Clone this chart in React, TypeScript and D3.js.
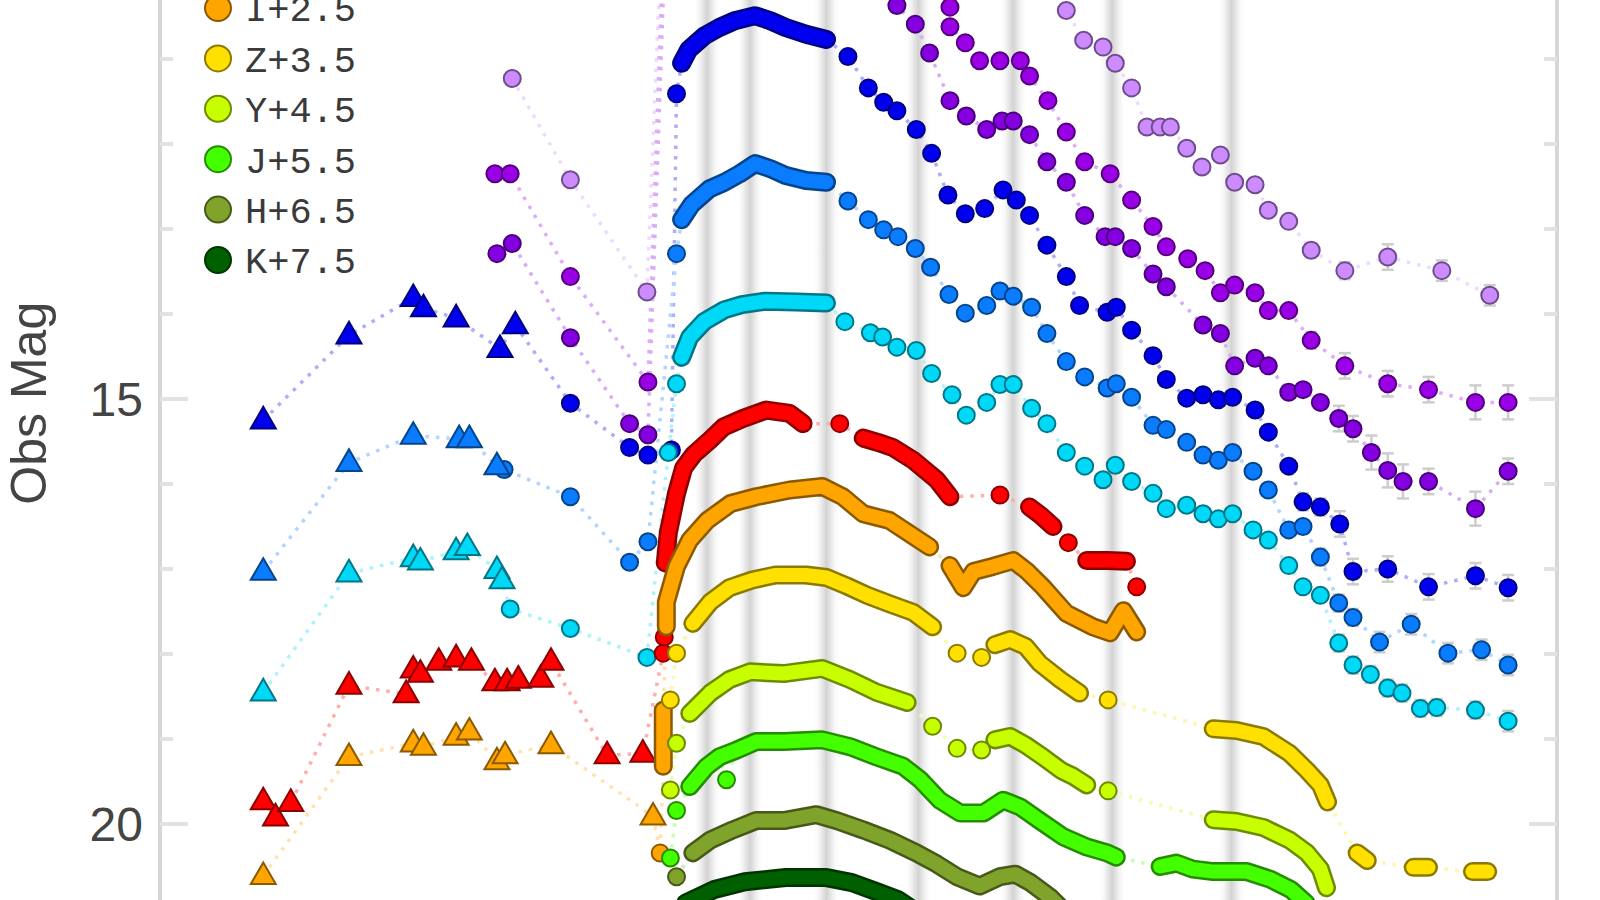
import React, { useEffect, useRef } from 'react'
import * as d3 from 'd3'

// [phase (days), observed mag incl. offset, error?]
type Pt = number[]

const W = 1600
const H = 900

// epochs of the spectra (grey bands)
const spectraDays = [5.6, 9.8, 17.3, 26.3, 35.6, 45.3, 57.0]

const magTicks = [11, 12, 13, 14, 15, 16, 17, 18, 19, 20]
const magLabels = [15, 20]

const legendLabels = ['I+2.5', 'Z+3.5', 'Y+4.5', 'J+5.5', 'H+6.5', 'K+7.5']
const legendColors = ['#ffa500', '#ffe000', '#c8ff00', '#44ff00', '#80a32c', '#006000']

// ---- UV bands (peak is above the frame)
const uvw2Pts: Pt[] = [
    [-13.5, 11.23], [-7.8, 12.42], [-0.3, 13.74], [1.1, 9.6], [38, 9.9],
    [40.8, 10.43], [42.5, 10.78], [44.4, 10.86], [45.6, 11.05], [47.2, 11.34],
    [48.7, 11.8], [50.0, 11.8], [51.0, 11.8], [52.6, 12.05], [54.1, 12.27],
    [55.9, 12.13], [57.3, 12.45], [59.3, 12.48], [60.6, 12.78], [62.6, 12.91],
    [64.8, 13.25, 0.08], [68.1, 13.49, 0.1], [72.3, 13.33, 0.15], [77.6, 13.49, 0.12], [82.3, 13.78, 0.12]
]

const uvm2Pts: Pt[] = [
    [-15.2, 12.35], [-13.7, 12.35], [-7.8, 13.56], [-0.2, 14.8], [1.3, 9.6], [27, 10.0],
    [29.4, 10.39], [29.4, 10.62], [30.9, 10.81], [32.3, 11.02], [34.3, 11.02], [36.3, 11.02],
    [37.2, 11.2], [39.0, 11.49], [40.8, 11.86], [42.6, 12.21], [45.1, 12.35], [47.2, 12.66],
    [49.3, 12.97], [50.6, 13.21], [52.7, 13.35], [54.4, 13.49], [55.9, 13.75], [57.3, 13.66],
    [59.3, 13.75], [60.6, 13.96], [62.6, 13.96], [64.8, 14.31, 0.1], [68.1, 14.61, 0.15],
    [72.3, 14.82, 0.15], [76.3, 14.89, 0.15], [80.9, 15.04, 0.2], [84.1, 15.04, 0.2]
]

const uvw1Pts: Pt[] = [
    [-15.0, 13.29], [-13.5, 13.17], [-7.8, 14.28], [-2.0, 15.29], [-0.2, 15.42], [1.5, 9.6], [22, 10.0],
    [24.2, 10.37], [26.0, 10.59], [27.4, 10.93], [29.4, 11.49], [31.0, 11.67], [33.0, 11.83],
    [34.5, 11.73], [35.6, 11.73], [37.2, 11.89], [38.9, 12.21], [40.8, 12.45], [42.6, 12.84],
    [44.6, 13.09], [45.6, 13.09], [47.2, 13.23], [49.3, 13.53], [50.6, 13.68], [54.2, 14.13],
    [55.9, 14.23], [57.3, 14.61], [59.3, 14.52], [60.6, 14.61], [62.6, 14.92], [64.0, 14.89],
    [65.7, 15.04], [67.5, 15.23, 0.15], [68.9, 15.35, 0.15], [70.7, 15.63, 0.2], [72.3, 15.84, 0.2],
    [73.8, 15.97, 0.2], [76.3, 15.97, 0.15], [80.9, 16.29, 0.2], [84.1, 15.85, 0.15]
]

// ---- U
const uTri: Pt[] = [
    [-37.9, 15.25], [-29.5, 14.25], [-23.2, 13.81], [-22.2, 13.93], [-19.0, 14.05], [-14.7, 14.41], [-13.2, 14.13]
]
const uPts: Pt[] = [
    [-7.8, 15.05], [-2.0, 15.57], [-0.2, 15.66], [2.1, 15.6], [2.6, 11.41],
    [19.4, 10.97], [21.4, 11.34], [22.9, 11.51], [24.2, 11.61], [26.1, 11.83], [27.6, 12.11],
    [29.2, 12.6], [30.9, 12.82], [32.8, 12.76], [34.6, 12.54], [35.9, 12.66], [37.2, 12.84],
    [38.9, 13.19], [40.8, 13.56], [42.1, 13.9], [44.8, 13.98], [45.7, 13.92], [47.2, 14.19],
    [49.3, 14.49], [50.6, 14.77], [52.6, 14.99], [54.2, 14.95], [55.7, 15.01], [57.1, 14.98],
    [59.3, 15.13], [60.6, 15.39], [62.6, 15.79], [64.0, 16.21, 0.1], [65.7, 16.27, 0.1],
    [67.6, 16.47, 0.15], [68.9, 17.03, 0.15], [72.3, 17.0, 0.15], [76.3, 17.21, 0.15],
    [80.9, 17.08, 0.15], [84.1, 17.22, 0.15]
]
const uRuns: Pt[][] = [
    [[3.1, 11.05], [3.8, 10.89], [5.3, 10.73], [6.8, 10.63], [8.3, 10.55], [10.3, 10.49],
     [11.8, 10.55], [13.3, 10.63], [15.3, 10.71], [17.3, 10.77]]
]

// ---- B
const bTri: Pt[] = [
    [-37.9, 17.03], [-29.5, 15.75], [-23.2, 15.43], [-18.7, 15.47], [-17.7, 15.47], [-15.0, 15.79]
]
const bPts: Pt[] = [
    [-14.3, 15.83], [-7.8, 16.15], [-2.0, 16.92], [-0.2, 16.68], [2.6, 13.29],
    [19.4, 12.67], [21.4, 12.89], [22.9, 13.01], [24.3, 13.09], [26.0, 13.23], [27.5, 13.45],
    [29.3, 13.77], [30.9, 13.99], [33.0, 13.9], [34.3, 13.73], [35.6, 13.79], [37.4, 13.92],
    [38.9, 14.23], [40.8, 14.56], [42.6, 14.74], [44.8, 14.87], [45.7, 14.82], [47.2, 14.98],
    [49.3, 15.31], [50.6, 15.36], [52.6, 15.51], [54.2, 15.66], [55.7, 15.72], [57.1, 15.63],
    [59.1, 15.85], [60.6, 16.07], [62.6, 16.54], [64.0, 16.5], [65.7, 16.86, 0.1],
    [67.5, 17.4, 0.1], [68.9, 17.57, 0.1], [71.5, 17.86, 0.12], [74.6, 17.65, 0.12],
    [78.2, 17.99, 0.12], [81.5, 17.95, 0.12], [84.1, 18.13, 0.12]
]
const bRuns: Pt[][] = [
    [[3.1, 12.89], [4.1, 12.71], [5.8, 12.53], [7.3, 12.45], [8.8, 12.35], [10.3, 12.23],
     [11.8, 12.29], [13.3, 12.37], [15.3, 12.43], [17.3, 12.45]]
]

// ---- V
const vTri: Pt[] = [
    [-37.9, 18.45], [-29.5, 17.05], [-23.2, 16.87], [-22.5, 16.91], [-19.0, 16.79],
    [-17.9, 16.74], [-15.0, 17.01], [-14.5, 17.13]
]
const vPts: Pt[] = [
    [-13.7, 17.47], [-7.8, 17.7], [-0.3, 18.04], [1.8, 15.63], [2.6, 14.82],
    [19.1, 14.09], [21.6, 14.22], [22.8, 14.27], [24.2, 14.39], [26.1, 14.43], [27.6, 14.7],
    [29.6, 14.95], [31.0, 15.19], [33.0, 15.04], [34.3, 14.83], [35.6, 14.83], [37.4, 15.11],
    [38.9, 15.29], [40.8, 15.63], [42.6, 15.79], [44.4, 15.95], [45.6, 15.78], [47.2, 15.97],
    [49.3, 16.11], [50.6, 16.29], [52.6, 16.25], [54.2, 16.35], [55.7, 16.41], [57.1, 16.35],
    [59.1, 16.54], [60.6, 16.66], [62.6, 16.96], [64.0, 17.21], [65.7, 17.31],
    [67.5, 17.87, 0.1], [68.9, 18.13, 0.1], [70.6, 18.24, 0.1], [72.3, 18.4, 0.1],
    [73.7, 18.46, 0.1], [75.5, 18.64, 0.1], [77.1, 18.63, 0.1], [80.9, 18.66, 0.1], [84.1, 18.79, 0.12]
]
const vRuns: Pt[][] = [
    [[3.1, 14.51], [3.9, 14.27], [5.3, 14.09], [7.3, 13.95], [9.0, 13.89], [11.3, 13.85],
     [14.3, 13.86], [17.3, 13.87]]
]

// ---- R
const rTri: Pt[] = [
    [-37.9, 19.73], [-36.7, 19.92], [-35.2, 19.75], [-29.5, 18.37], [-23.9, 18.47], [-23.2, 18.18],
    [-22.5, 18.23], [-20.7, 18.09], [-19.0, 18.05], [-17.5, 18.09], [-15.2, 18.33], [-14.0, 18.33],
    [-12.9, 18.3], [-10.7, 18.29], [-9.7, 18.09], [-4.2, 19.19], [-0.7, 19.17]
]
const rPts: Pt[] = [
    [1.3, 17.99], [1.4, 17.8], [18.6, 15.29], [34.3, 16.13], [41.0, 16.69], [47.7, 17.21]
]
const rRuns: Pt[][] = [
    [[1.5, 16.93], [1.8, 16.57], [2.6, 16.11], [3.3, 15.81], [4.3, 15.65], [5.9, 15.48], [7.2, 15.33],
     [9.1, 15.23], [11.4, 15.13], [13.7, 15.17], [15.0, 15.29]],
    [[20.9, 15.46], [22.3, 15.51], [23.8, 15.57], [25.8, 15.72], [28.1, 15.95], [29.4, 16.15]],
    [[37.2, 16.27], [38.3, 16.37], [39.5, 16.5]],
    [[42.8, 16.9], [44.8, 16.9], [46.7, 16.91]]
]

// ---- I
const iTri: Pt[] = [
    [-37.9, 20.61], [-29.5, 19.21], [-23.2, 19.05], [-22.2, 19.09], [-19.0, 18.97], [-17.7, 18.91],
    [-15.0, 19.26], [-14.2, 19.19], [-9.7, 19.07], [0.3, 19.91]
]
const iPts: Pt[] = [[1.0, 20.34]]
const iRuns: Pt[][] = [
    [[1.3, 19.32], [1.3, 18.95], [1.3, 18.66]],
    [[1.6, 17.68], [1.6, 17.39], [2.6, 16.97], [3.9, 16.66], [5.6, 16.43], [7.9, 16.23], [10.4, 16.15],
     [13.7, 16.07], [16.9, 16.03], [18.9, 16.15], [20.9, 16.35], [23.5, 16.43], [25.5, 16.59], [27.4, 16.74]],
    [[29.4, 16.96], [30.7, 17.22], [31.7, 17.03], [33.6, 16.97], [35.6, 16.9], [36.9, 17.02],
     [38.5, 17.21], [40.8, 17.52], [43.4, 17.68], [45.1, 17.75], [46.4, 17.49], [47.7, 17.74]]
]

// ---- Z
const zPts: Pt[] = [[2.0, 18.54], [2.6, 17.99], [30.1, 17.99], [32.5, 18.04], [44.9, 18.54]]
const zRuns: Pt[][] = [
    [[4.2, 17.64], [5.9, 17.39], [7.8, 17.22], [10.0, 17.13], [12.3, 17.07], [15.3, 17.07],
     [17.3, 17.1], [19.3, 17.2], [21.3, 17.31], [23.5, 17.41], [25.8, 17.51], [27.7, 17.68]],
    [[33.8, 17.89], [35.3, 17.83], [36.8, 17.91], [38.2, 18.11], [40.2, 18.3], [42.1, 18.46]],
    [[55.2, 18.88], [57.5, 18.9], [60.1, 18.97], [62.7, 19.17], [64.4, 19.37], [65.7, 19.54], [66.4, 19.74]],
    [[69.3, 20.34], [70.3, 20.43]],
    [[74.8, 20.51], [76.3, 20.51]],
    [[80.6, 20.56], [82.1, 20.56]]
]

// ---- Y
const yPts: Pt[] = [[2.0, 19.6], [2.6, 19.05], [27.7, 18.85], [30.1, 19.11], [32.5, 19.13], [44.9, 19.61]]
const yRuns: Pt[][] = [
    [[3.9, 18.7], [5.9, 18.46], [7.8, 18.3], [9.8, 18.21], [13.1, 18.23], [16.9, 18.17],
     [19.6, 18.3], [22.2, 18.45], [25.2, 18.57]],
    [[33.8, 19.01], [35.3, 18.97], [36.8, 19.07], [38.5, 19.21], [40.3, 19.37], [41.5, 19.44], [42.8, 19.54]],
    [[55.2, 19.95], [57.5, 19.97], [60.1, 20.04], [62.7, 20.19], [64.4, 20.34], [65.7, 20.53], [66.3, 20.75]]
]

// ---- J
const jPts: Pt[] = [[2.0, 20.4], [2.6, 19.84], [7.5, 19.48]]
const jRuns: Pt[][] = [
    [[3.9, 19.56], [5.5, 19.33], [6.8, 19.21], [8.5, 19.13], [10.4, 19.03], [13.1, 19.03],
     [16.9, 19.01], [19.6, 19.09], [22.2, 19.21], [24.8, 19.32], [26.5, 19.48], [28.4, 19.72],
     [30.4, 19.87], [32.7, 19.87], [34.6, 19.72], [36.3, 19.8], [38.2, 19.96], [40.5, 20.15],
     [42.8, 20.27], [44.8, 20.34], [45.7, 20.39]],
    [[50.0, 20.5], [51.6, 20.46], [53.2, 20.53], [55.2, 20.56], [57.1, 20.56], [58.5, 20.56],
     [60.8, 20.65], [62.8, 20.77], [64.3, 20.93]]
]

// ---- H
const hPts: Pt[] = [[2.6, 20.62]]
const hRuns: Pt[][] = [
    [[4.2, 20.34], [5.9, 20.19], [8.1, 20.07], [10.4, 19.96], [13.1, 19.96], [16.3, 19.89],
     [18.3, 19.96], [20.9, 20.07], [23.5, 20.19], [26.1, 20.34], [28.1, 20.47], [30.1, 20.62],
     [32.3, 20.73], [34.3, 20.62], [35.8, 20.59], [37.3, 20.69], [39.3, 20.87], [40.8, 21.05]]
]

// ---- K
const kRuns: Pt[][] = [
    [[3.5, 20.93], [6.3, 20.77], [9.3, 20.68], [13.3, 20.63], [17.3, 20.63], [19.8, 20.69],
     [22.3, 20.8], [24.3, 20.89], [26.3, 21.05]]
]

type Series = { color: string, tri: Pt[], pts: Pt[], runs: Pt[][] }

const series: Series[] = [
    { color: '#cc8cff', tri: [], pts: uvw2Pts, runs: [] },
    { color: '#9a00e6', tri: [], pts: uvm2Pts, runs: [] },
    { color: '#8400e0', tri: [], pts: uvw1Pts, runs: [] },
    { color: '#0000ee', tri: uTri, pts: uPts, runs: uRuns },
    { color: '#0a7cff', tri: bTri, pts: bPts, runs: bRuns },
    { color: '#00d8f8', tri: vTri, pts: vPts, runs: vRuns },
    { color: '#ff0000', tri: rTri, pts: rPts, runs: rRuns },
    { color: legendColors[0], tri: iTri, pts: iPts, runs: iRuns },
    { color: legendColors[1], tri: [], pts: zPts, runs: zRuns },
    { color: legendColors[2], tri: [], pts: yPts, runs: yRuns },
    { color: legendColors[3], tri: [], pts: jPts, runs: jRuns },
    { color: legendColors[4], tri: [], pts: hPts, runs: hRuns },
    { color: legendColors[5], tri: [], pts: [], runs: kRuns },
]

const darkOf = (c: string) => d3.color(c)!.darker(1.7).formatHex()

export default function App() {
    const ref = useRef<SVGSVGElement>(null)

    useEffect(() => {
        const svg = d3.select(ref.current)
        svg.selectAll('*').remove()

        const left = 160, right = 1557
        const x = d3.scaleLinear().domain([-48.02, 88.89]).range([left, right])
        const y = d3.scaleLinear().domain([10.306, 20.894]).range([0, H])
        const line = d3.line<Pt>().x(d => x(d[0])).y(d => y(d[1]))

        const defs = svg.append('defs')
        const grad = defs.append('linearGradient').attr('id', 'band')
        grad.append('stop').attr('offset', '0').attr('stop-color', '#ffffff').attr('stop-opacity', 0)
        grad.append('stop').attr('offset', '0.3').attr('stop-color', '#ececec')
        grad.append('stop').attr('offset', '0.5').attr('stop-color', '#d3d3d3')
        grad.append('stop').attr('offset', '0.7').attr('stop-color', '#ececec')
        grad.append('stop').attr('offset', '1').attr('stop-color', '#ffffff').attr('stop-opacity', 0)
        defs.append('clipPath').attr('id', 'plotclip')
            .append('rect').attr('x', left).attr('y', 0).attr('width', right - left).attr('height', H)

        svg.append('rect').attr('width', W).attr('height', H).attr('fill', '#fff')

        // spectra epochs
        svg.append('g').selectAll('rect').data(spectraDays).join('rect')
            .attr('x', d => x(d) - 14).attr('y', 0).attr('width', 28).attr('height', H)
            .attr('fill', 'url(#band)')

        // axes frame
        const axis = svg.append('g')
        axis.append('line').attr('x1', left).attr('x2', left).attr('y1', 0).attr('y2', H)
            .attr('stroke', '#d6d6d6').attr('stroke-width', 4)
        axis.append('line').attr('x1', right).attr('x2', right).attr('y1', 0).attr('y2', H)
            .attr('stroke', '#d6d6d6').attr('stroke-width', 4)
        magTicks.forEach(m => {
            const len = magLabels.includes(m) ? 28 : 13
            axis.append('line').attr('x1', left).attr('x2', left + len).attr('y1', y(m)).attr('y2', y(m))
                .attr('stroke', '#e2e2e2').attr('stroke-width', 4)
            axis.append('line').attr('x1', right).attr('x2', right - len).attr('y1', y(m)).attr('y2', y(m))
                .attr('stroke', '#e2e2e2').attr('stroke-width', 4)
        })
        axis.selectAll('text.tl').data(magLabels).join('text')
            .attr('class', 'tl')
            .attr('x', 143).attr('y', d => y(d)).attr('dy', '0.36em')
            .attr('text-anchor', 'end')
            .style('font-family', '"Liberation Sans", Arial, sans-serif')
            .style('font-size', '48px').attr('fill', '#444')
            .text(d => d)
        axis.append('text')
            .attr('transform', `translate(46,${y(15.05)}) rotate(-90)`)
            .attr('text-anchor', 'middle')
            .style('font-family', '"Liberation Sans", Arial, sans-serif')
            .style('font-size', '50px').attr('fill', '#444')
            .text('Obs Mag')

        const plot = svg.append('g').attr('clip-path', 'url(#plotclip)')

        // dotted connecting lines
        series.forEach(s => {
            const all = [...s.tri, ...s.pts, ...s.runs.flat()].sort((a, b) => a[0] - b[0])
            plot.append('path').datum(all).attr('d', line)
                .attr('fill', 'none')
                .attr('stroke', d3.interpolateRgb(s.color, '#ffffff')(0.68))
                .attr('stroke-width', 3.5)
                .attr('stroke-dasharray', '3.5,7')
        })

        series.forEach(s => {
            const g = plot.append('g')
            const dark = darkOf(s.color)

            // error bars
            const withErr = s.pts.filter(p => p.length > 2)
            withErr.forEach(p => {
                const cx = x(p[0]), y0 = y(p[1] - p[2]), y1 = y(p[1] + p[2])
                g.append('line').attr('x1', cx).attr('x2', cx).attr('y1', y0).attr('y2', y1)
                    .attr('stroke', '#cdcdcd').attr('stroke-width', 2.5)
                g.append('line').attr('x1', cx - 6).attr('x2', cx + 6).attr('y1', y0).attr('y2', y0)
                    .attr('stroke', '#cdcdcd').attr('stroke-width', 2.5)
                g.append('line').attr('x1', cx - 6).attr('x2', cx + 6).attr('y1', y1).attr('y2', y1)
                    .attr('stroke', '#cdcdcd').attr('stroke-width', 2.5)
            })

            // densely sampled stretches
            s.runs.forEach(run => {
                g.append('path').datum(run).attr('d', line)
                    .attr('fill', 'none').attr('stroke', dark).attr('stroke-width', 19)
                    .attr('stroke-linecap', 'round').attr('stroke-linejoin', 'round')
                g.append('path').datum(run).attr('d', line)
                    .attr('fill', 'none').attr('stroke', s.color).attr('stroke-width', 14)
                    .attr('stroke-linecap', 'round').attr('stroke-linejoin', 'round')
            })

            g.selectAll('circle').data(s.pts).join('circle')
                .attr('cx', d => x(d[0])).attr('cy', d => y(d[1])).attr('r', 8.5)
                .attr('fill', s.color).attr('stroke', dark).attr('stroke-width', 2)

            g.selectAll('path.tri').data(s.tri).join('path')
                .attr('class', 'tri')
                .attr('transform', d => `translate(${x(d[0])},${y(d[1]) + 1})`)
                .attr('d', d3.symbol().type(d3.symbolTriangle).size(270)())
                .attr('fill', s.color).attr('stroke', dark).attr('stroke-width', 2)
        })

        // legend
        const lg = svg.append('g')
        legendLabels.forEach((lab, i) => {
            const ly = 8 + i * 50.4
            lg.append('circle').attr('cx', 218).attr('cy', ly).attr('r', 13)
                .attr('fill', legendColors[i]).attr('stroke', darkOf(legendColors[i])).attr('stroke-width', 2)
            lg.append('text').attr('x', 245).attr('y', ly).attr('dy', '0.36em')
                .style('font-family', '"Liberation Mono", "DejaVu Sans Mono", monospace')
                .style('font-size', '37px').attr('fill', '#3a3a3a')
                .text(lab)
        })
    }, [])

    return (
        <div style={{ position: 'absolute', left: 0, top: 0 }}>
            <svg ref={ref} width={W} height={H} style={{ display: 'block' }} />
        </div>
    )
}
